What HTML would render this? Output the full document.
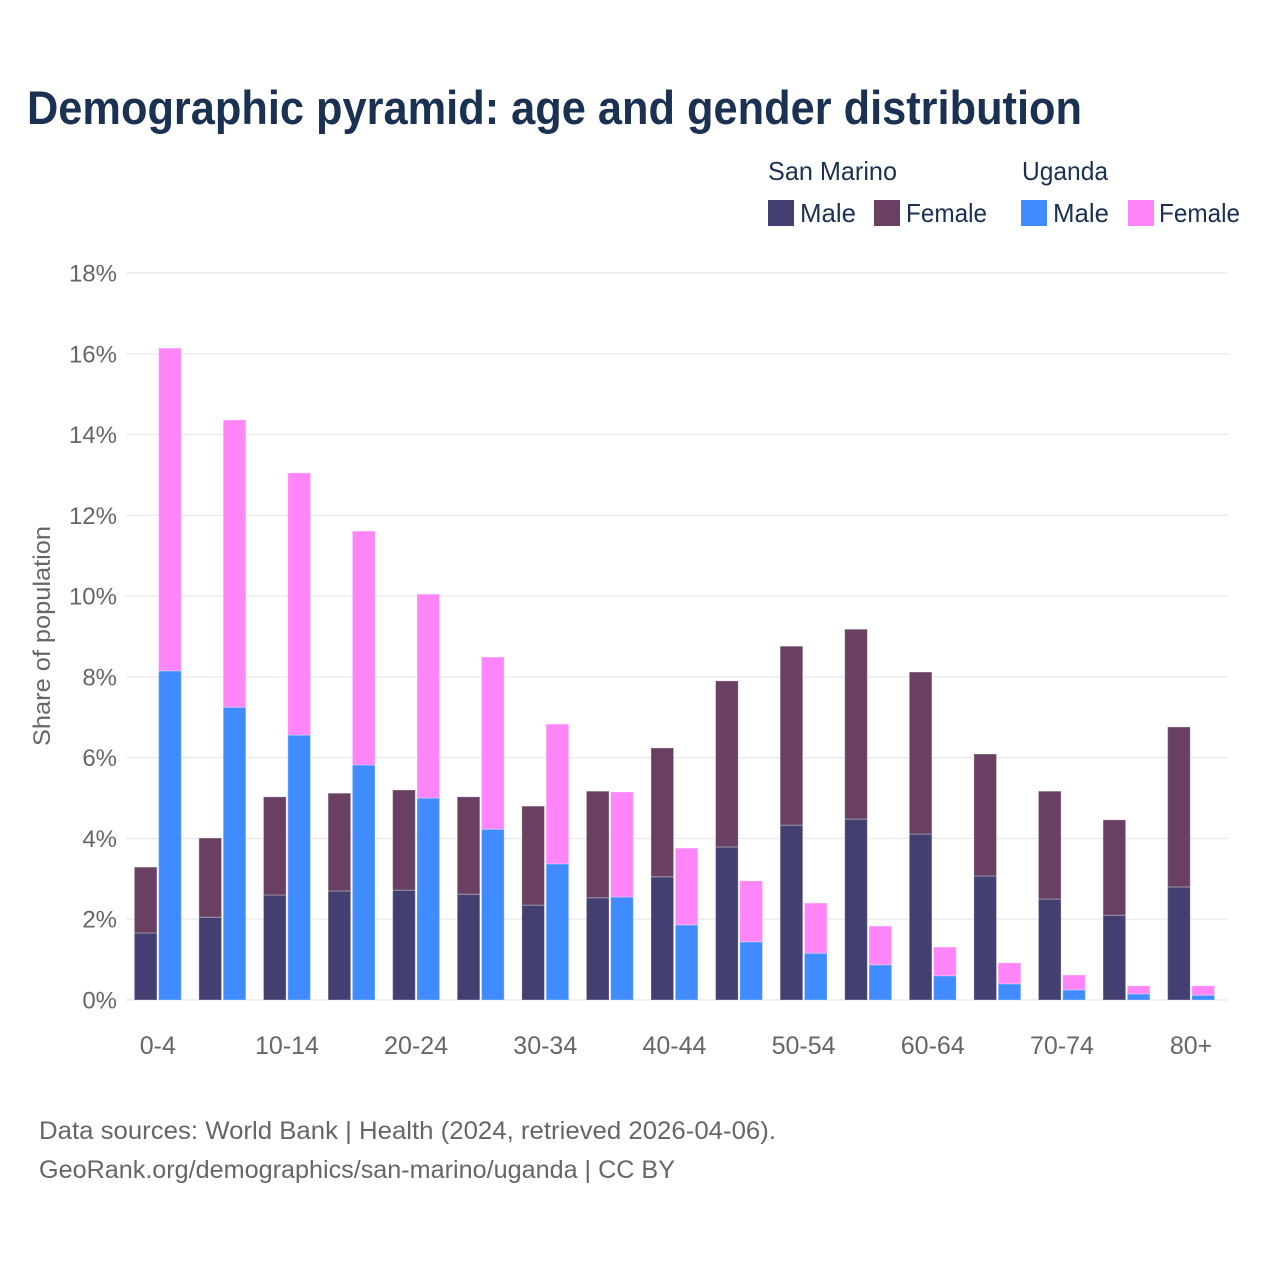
<!DOCTYPE html>
<html>
<head>
<meta charset="utf-8">
<title>Demographic pyramid</title>
<style>
html,body{margin:0;padding:0;background:#fff;}
svg{display:block;}
text{font-family:"Liberation Sans",sans-serif;}
</style>
</head>
<body>
<svg id="chart" xmlns="http://www.w3.org/2000/svg" width="1280" height="1280" viewBox="0 0 1280 1280">
<rect x="0" y="0" width="1280" height="1280" fill="#ffffff"/>
<text x="27" y="124" font-size="47" font-weight="700" fill="#1a3152" textLength="1055" lengthAdjust="spacingAndGlyphs">Demographic pyramid: age and gender distribution</text>

<g font-size="26" fill="#1a3152">
<text x="768" y="180" textLength="129" lengthAdjust="spacingAndGlyphs">San Marino</text>
<text x="1022" y="180" textLength="86" lengthAdjust="spacingAndGlyphs">Uganda</text>
<rect x="768" y="200" width="26" height="26" fill="#433f71"/>
<text x="800" y="222" textLength="56" lengthAdjust="spacingAndGlyphs">Male</text>
<rect x="874" y="200" width="26" height="26" fill="#694062"/>
<text x="906" y="222" textLength="81" lengthAdjust="spacingAndGlyphs">Female</text>
<rect x="1021" y="200" width="26" height="26" fill="#408bff"/>
<text x="1053" y="222" textLength="56" lengthAdjust="spacingAndGlyphs">Male</text>
<rect x="1128" y="200" width="26" height="26" fill="#ff85f9"/>
<text x="1159" y="222" textLength="81" lengthAdjust="spacingAndGlyphs">Female</text>
</g>

<g id="grid"></g>
<g id="yticks"></g>
<g id="bars"></g>
<g id="xticks"></g>

<text transform="translate(50,746) rotate(-90)" x="0" y="0" font-size="24" fill="#666666" textLength="220" lengthAdjust="spacingAndGlyphs">Share of population</text>

<text x="39" y="1139" font-size="25" fill="#666666" textLength="737" lengthAdjust="spacingAndGlyphs">Data sources: World Bank | Health (2024, retrieved 2026-04-06).</text>
<text x="39" y="1178" font-size="25" fill="#666666" textLength="636" lengthAdjust="spacingAndGlyphs">GeoRank.org/demographics/san-marino/uganda | CC BY</text>
</svg>

<script>
const categories = ["0-4","5-9","10-14","15-19","20-24","25-29","30-34","35-39","40-44","45-49","50-54","55-59","60-64","65-69","70-74","75-79","80+"];
const categoryLabels = ["0-4","","10-14","","20-24","","30-34","","40-44","","50-54","","60-64","","70-74","","80+"];
const sanMarinoMale = [1.66,2.05,2.60,2.70,2.72,2.62,2.35,2.53,3.05,3.79,4.33,4.48,4.11,3.07,2.50,2.10,2.80];
const sanMarinoFemale = [1.63,1.96,2.43,2.42,2.48,2.41,2.45,2.64,3.19,4.11,4.43,4.70,4.01,3.02,2.67,2.36,3.96];
const ugandaMale = [8.15,7.25,6.56,5.82,5.00,4.23,3.37,2.55,1.86,1.44,1.16,0.87,0.60,0.40,0.25,0.15,0.12];
const ugandaFemale = [7.99,7.11,6.49,5.79,5.05,4.26,3.46,2.60,1.90,1.51,1.24,0.96,0.71,0.52,0.37,0.20,0.23];
const yTickValues = [0,2,4,6,8,10,12,14,16,18];

const NS = "http://www.w3.org/2000/svg";
const plotLeft = 126, plotRight = 1228, y0 = 1000, y18 = 273;
const firstCenter = 157.8, step = 64.58, barW = 22.6, barGap = 1.7;
function yScale(v) { return y0 - (v / 18) * (y0 - y18); }
function xCenter(i) { return firstCenter + i * step; }

function make(tag, attrs, parent) {
  const el = document.createElementNS(NS, tag);
  for (const k in attrs) el.setAttribute(k, attrs[k]);
  parent.appendChild(el);
  return el;
}

const gridG = document.getElementById("grid");
const ytG = document.getElementById("yticks");
yTickValues.forEach(function (v) {
  const line = make("line", {x1: plotLeft, x2: plotRight, y1: yScale(v), y2: yScale(v), stroke: "#ebebeb", "stroke-width": 1.4}, gridG);
  
  
  const t = make("text", {x: 117, y: yScale(v) + 8.5, "text-anchor": "end", "font-size": 24, fill: "#666666"}, ytG);
  t.textContent = v + "%";
  
  
});

const barsG = document.getElementById("bars");
function drawBar(x, base, val, fill, name) {
  const r = make("rect", {x: x, y: yScale(base + val), width: barW, height: yScale(base) - yScale(base + val), fill: fill, stroke: "#ffffff", "stroke-opacity": 0.3, "stroke-width": 1}, barsG);
  
  
}
categories.forEach(function (c, i) {
  const cx = xCenter(i);
  const xL = cx - barW - barGap / 2;
  const xR = cx + barGap / 2;
  drawBar(xL, 0, sanMarinoMale[i], "#433f71", "bar-san-marino-male");
  drawBar(xL, sanMarinoMale[i], sanMarinoFemale[i], "#694062", "bar-san-marino-female");
  drawBar(xR, 0, ugandaMale[i], "#408bff", "bar-uganda-male");
  drawBar(xR, ugandaMale[i], ugandaFemale[i], "#ff85f9", "bar-uganda-female");
});

const xtG = document.getElementById("xticks");
categoryLabels.forEach(function (lab, i) {
  if (!lab) return;
  const t = make("text", {x: xCenter(i), y: 1054, "text-anchor": "middle", "font-size": 25, fill: "#666666"}, xtG);
  t.textContent = lab;
  
  
});
</script>
</body>
</html>
